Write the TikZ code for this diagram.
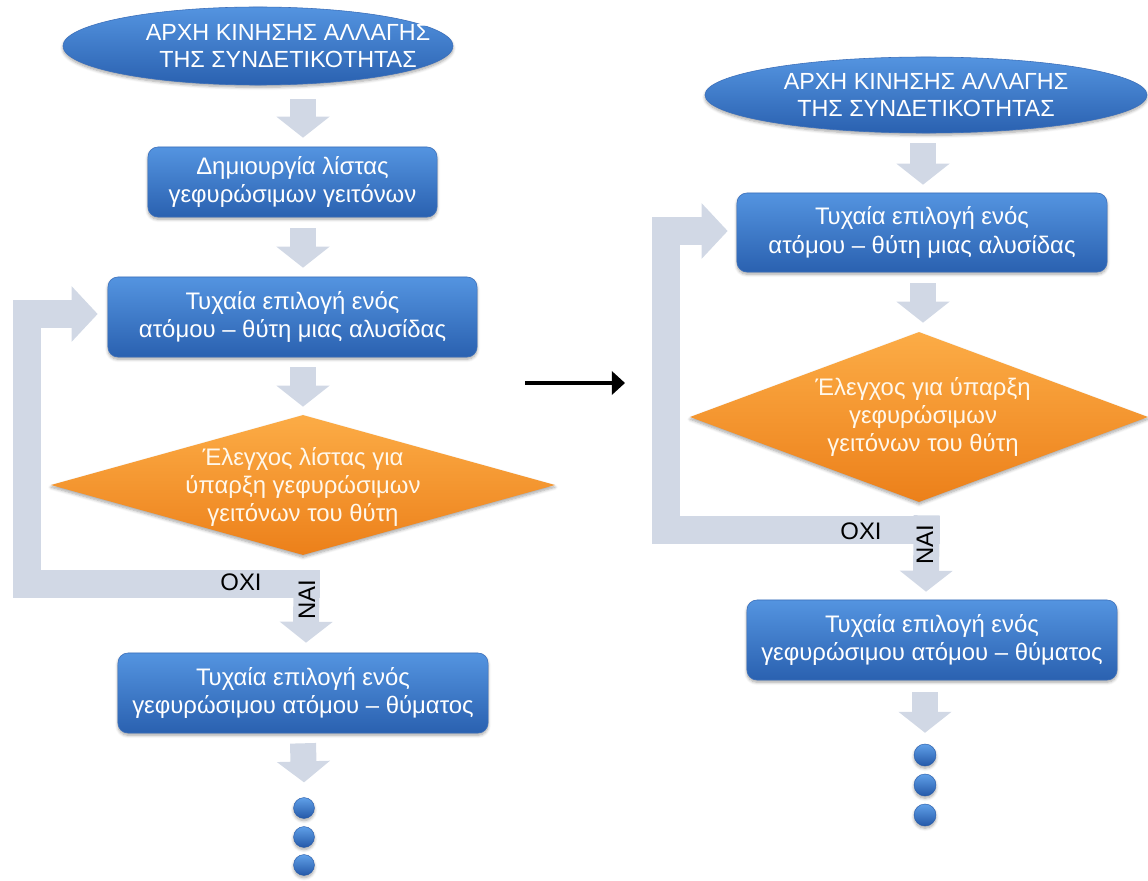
\documentclass[tikz,border=0pt]{standalone}
\usepackage{fontspec}
\setmainfont{Liberation Sans}
\usetikzlibrary{shapes.geometric,arrows.meta,calc,shadows.blur}
\definecolor{boxtop}{RGB}{84,148,224}
\definecolor{boxbot}{RGB}{42,97,176}
\definecolor{boxedge}{RGB}{58,110,186}
\definecolor{dtop}{RGB}{252,172,70}
\definecolor{dbot}{RGB}{236,128,26}
\definecolor{dtext}{RGB}{255,248,236}
\definecolor{flow}{RGB}{209,216,229}
\definecolor{dothi}{RGB}{96,160,232}
\definecolor{dotlo}{RGB}{36,88,168}
\tikzset{
  x=0.025cm, y=-0.025cm,
  txt/.style={font=\fontsize{17}{20}\selectfont},
  softshadow/.style={blur shadow={shadow xshift=0pt, shadow yshift=-1.6pt,
      shadow blur steps=6, shadow opacity=35}},
  stepbox/.style={rectangle, rounded corners=0.25cm, top color=boxtop,
      bottom color=boxbot, draw=boxedge, line width=0.4pt, text=white,
      align=center, inner sep=0pt, softshadow, txt},
  startshape/.style={ellipse, top color=boxtop, bottom color=boxbot,
      draw=boxedge, line width=0.4pt, inner sep=0pt, softshadow},
  starttext/.style={font=\fontsize{16.6}{19.5}\selectfont, text=white, align=center},
  decision/.style={diamond, top color=dtop, bottom color=dbot, inner sep=0pt,
      softshadow},
  decisiontext/.style={txt, text=dtext, align=center},
  dotball/.style={circle, top color=dothi, bottom color=dotlo, draw=dotlo,
      line width=0.3pt, inner sep=0pt, minimum size=0.52cm, softshadow},
  garrow/.style={draw=flow, line width=0.65cm,
      -{Triangle[length=0.525cm, width=1.3cm]}},
  loopflow/.style={draw=flow, line width=0.7cm, line join=miter,
      -{Triangle[length=0.65cm, width=1.35cm]}},
  flowlabel/.style={txt, text=black, inner sep=0pt},
}
\begin{document}
\begin{tikzpicture}
\useasboundingbox (0,0) rectangle (1148,880);

% ---------------- left flowchart ----------------
\node[startshape, minimum width=9.75cm, minimum height=1.95cm,
      label={[name=e1t, starttext, xshift=0.75cm]center:%
        ΑΡΧΗ ΚΙΝΗΣΗΣ ΑΛΛΑΓΗΣ\\ΤΗΣ ΣΥΝΔΕΤΙΚΟΤΗΤΑΣ}] (e1) at (258,46) {};
\node[stepbox, minimum width=7.225cm, minimum height=1.75cm] (b1) at (292.5,182)
  {Δημιουργία λίστας\\γεφυρώσιμων γειτόνων};
\node[stepbox, minimum width=9.225cm, minimum height=2cm] (b2) at (292.5,317)
  {Τυχαία επιλογή ενός\\ατόμου – θύτη μιας αλυσίδας};
\node[decision, minimum width=12.6cm, minimum height=3.5cm,
      label={[name=d1t, decisiontext, yshift=-0.05cm]center:%
        Έλεγχος λίστας για\\ύπαρξη γεφυρώσιμων\\γειτόνων του θύτη}] (d1) at (303,485) {};
\node[stepbox, minimum width=9.25cm, minimum height=2cm] (b3) at (303,693)
  {Τυχαία επιλογή ενός\\γεφυρώσιμου ατόμου – θύματος};
\node[dotball] (l1) at (304,808) {};
\node[dotball] (l2) at (304,837) {};
\node[dotball] (l3) at (304,865) {};

\coordinate (cl) at (303,0);
\draw[garrow] ($(e1.south -| cl)+(0,14)$) -- ($(b1.north -| cl)+(0,-9)$);
\draw[garrow] ($(b1.south -| cl)+(0,11)$) -- ($(b2.north -| cl)+(0,-9)$);
\draw[garrow] ($(b2.south -| cl)+(0,10)$) -- ($(d1.north)+(0,-8)$);
% "no" branch loops back to the chain step
\draw[loopflow] ($(d1.south)+(17,29)$) -| ($(b2.west)+(-80.5,-3)$)
  -- ($(b2.west)+(-10,-3)$);
% "yes" branch
\draw[garrow] ($(d1.south)+(3.5,15)$) -- ($(b3.north)+(3,-10)$);
\draw[garrow] ($(b3.south)+(0,10)$) -- ($(l1.north)+(0,-15)$);
\node[flowlabel] (oxiL) at (241,582) {ΟΧΙ};
\node[flowlabel, rotate=90] (naiL) at (307,600) {ΝΑΙ};

% ---------------- transition ----------------
\coordinate (m1) at (525,383);
\coordinate (m2) at (625,383);
\draw[line width=0.1cm, -{Triangle[length=0.33cm, width=0.58cm]}] (m1) -- (m2);

% ---------------- right flowchart ----------------
\node[startshape, minimum width=11.05cm, minimum height=1.9cm,
      label={[name=e2t, starttext]center:%
        ΑΡΧΗ ΚΙΝΗΣΗΣ ΑΛΛΑΓΗΣ\\ΤΗΣ ΣΥΝΔΕΤΙΚΟΤΗΤΑΣ}] (e2) at (926,95) {};
\node[stepbox, minimum width=9.25cm, minimum height=1.975cm] (bA) at (922,232.5)
  {Τυχαία επιλογή ενός\\ατόμου – θύτη μιας αλυσίδας};
\node[decision, minimum width=11.45cm, minimum height=4.25cm,
      label={[name=d2t, decisiontext, xshift=0.1cm]center:%
        Έλεγχος για ύπαρξη\\γεφυρώσιμων\\γειτόνων του θύτη}] (d2) at (919,417) {};
\node[stepbox, minimum width=9.25cm, minimum height=2cm] (bB) at (932,640)
  {Τυχαία επιλογή ενός\\γεφυρώσιμου ατόμου – θύματος};
\node[dotball, minimum size=0.55cm] (r1) at (925,755) {};
\node[dotball, minimum size=0.55cm] (r2) at (925,785) {};
\node[dotball, minimum size=0.55cm] (r3) at (925,815) {};

\coordinate (cr) at (923,0);
\draw[garrow] ($(e2.south -| cr)+(0,10)$) -- ($(bA.north -| cr)+(0,-8)$);
\draw[garrow] ($(bA.south -| cr)+(0,11)$) -- ($(d2.north -| cr)+(0,-9)$);
\draw[loopflow] ($(d2.south)+(21,28)$) -| ($(bA.west)+(-71,-1.5)$)
  -- ($(bA.west)+(-9,-1.5)$);
\draw[garrow] ($(d2.south)+(7.5,13)$) -- ($(bB.north -| d2.south)+(7,-8)$);
\draw[garrow] ($(bB.south -| r1)+(0,12)$) -- ($(r1.north)+(0,-11)$);
\node[flowlabel] (oxiR) at (861,531) {ΟΧΙ};
\node[flowlabel, rotate=90] (naiR) at (925,545) {ΝΑΙ};
\end{tikzpicture}
\end{document}
